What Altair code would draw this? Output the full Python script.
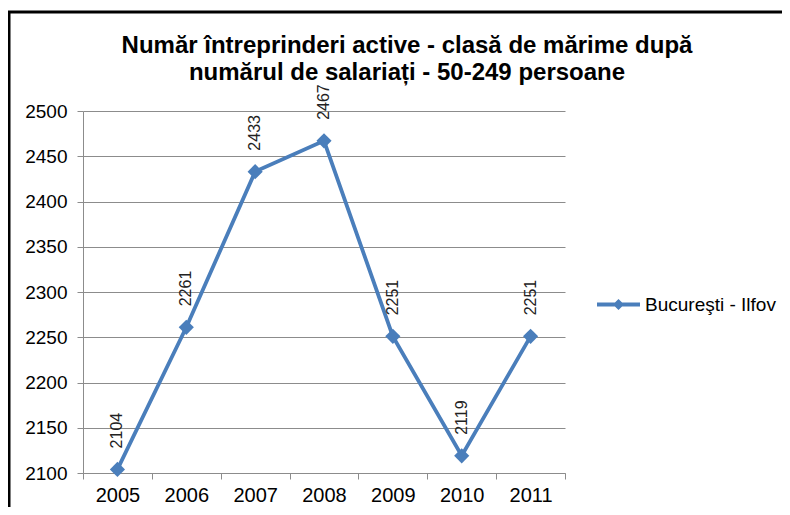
import altair as alt
import pandas as pd

years = ["2005", "2006", "2007", "2008", "2009", "2010", "2011"]
values = [2104, 2261, 2433, 2467, 2251, 2119, 2251]
series_name = "Bucureşti - Ilfov"
y_ticks = [2100, 2150, 2200, 2250, 2300, 2350, 2400, 2450, 2500]
title_lines = [
    "Număr întreprinderi active - clasă de mărime după",
    "numărul de salariați - 50-249 persoane",
]

BLUE = "#4A7EBB"
GRID = "#8c8c8c"
FONT = "Liberation Sans"
LEGEND_SYMBOL = "M-1,-0.09L1,-0.09L1,0.09L-1,0.09Z M-0.26,0L0,-0.26L0.26,0L0,0.26Z"

df = pd.DataFrame({"An": years, "Valoare": values, "Serie": [series_name] * len(years)})
base = alt.Chart(df)

x = alt.X(
    "An:N",
    sort=years,
    scale=alt.Scale(type="band", paddingInner=0, paddingOuter=0),
    axis=alt.Axis(
        title=None, labelAngle=0, tickBand="extent", grid=False,
        domainColor=GRID, tickColor=GRID, tickSize=6, labelPadding=6,
        labelFontSize=20, labelFont=FONT, labelColor="black",
    ),
)
y = alt.Y(
    "Valoare:Q",
    scale=alt.Scale(domain=[2100, 2500], nice=False, zero=False),
    axis=alt.Axis(
        title=None, values=y_ticks, format="d", grid=True, gridColor=GRID, gridWidth=1,
        domainColor=GRID, tickColor=GRID, tickSize=6, labelPadding=10,
        labelFontSize=19, labelFont=FONT, labelColor="black",
    ),
)

line = base.mark_line(color=BLUE, strokeWidth=3.8).encode(x=x, y=y)
points = base.mark_point(shape="diamond", filled=True, size=230, opacity=1).encode(
    x=x, y=y,
    color=alt.Color(
        "Serie:N",
        scale=alt.Scale(domain=[series_name], range=[BLUE]),
        legend=alt.Legend(
            title=None, orient="none", legendX=514, legendY=172, padding=0,
            symbolType=LEGEND_SYMBOL, symbolSize=1849, symbolStrokeWidth=0,
            labelFontSize=19, labelFont=FONT, labelColor="black", labelOffset=5,
        ),
    ),
)
labels = base.mark_text(
    angle=270, align="left", baseline="middle", dx=21, fontSize=16, font=FONT, color="#222"
).encode(x=x, y=y, text="Valoare:Q")

frame_df = pd.DataFrame({"k": [0]})
left_border = alt.Chart(frame_df).mark_rule(color="black", strokeWidth=3).encode(
    x=alt.value(-74), y=alt.value(-99), y2=alt.value(396)
)
top_border = alt.Chart(frame_df).mark_rule(color="black", strokeWidth=3).encode(
    x=alt.value(-75), x2=alt.value(699), y=alt.value(-99)
)

chart = alt.layer(left_border, top_border, line, points, labels).properties(
    width=482,
    height=362,
    padding={"left": 75, "top": 103, "right": 217, "bottom": 34},
    autosize=alt.AutoSizeParams(type="none"),
    title=alt.TitleParams(
        text=title_lines, fontSize=24, fontWeight="bold", font=FONT, color="black",
        anchor="middle", dx=83, baseline="bottom", lineHeight=27, offset=-98,
    ),
).configure_view(stroke=None)

chart.save("out.html", embed_options={"renderer": "svg", "actions": False})
